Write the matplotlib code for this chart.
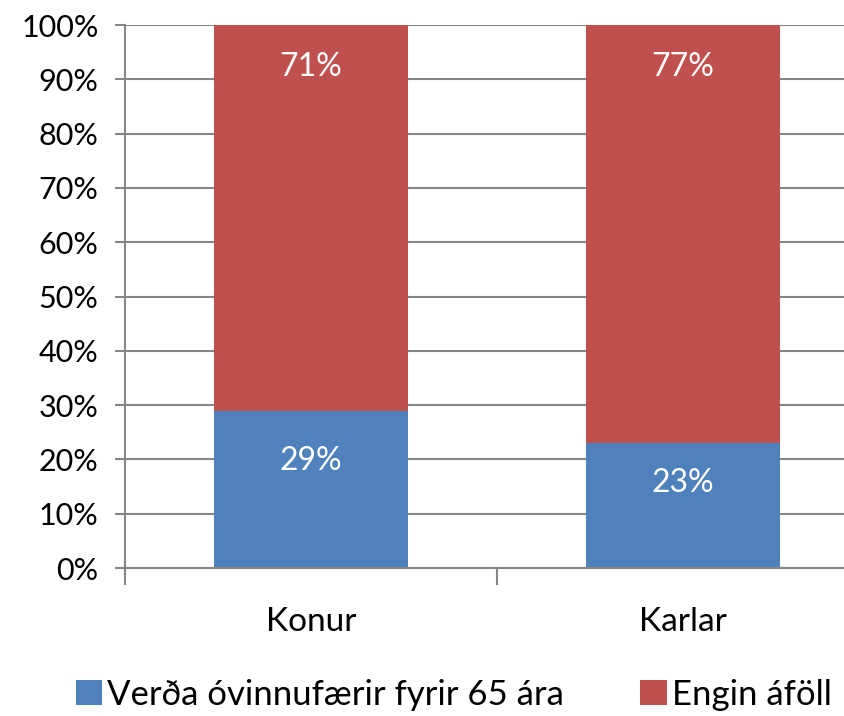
import matplotlib.pyplot as plt
import numpy as np

flokkar = ['Konur', 'Karlar']
ovinnufaer = np.array([29, 23])
engin_afoll = np.array([71, 77])
merkingar = ['Verða óvinnufærir fyrir 65 ára', 'Engin áföll']
y_merki = ['0%', '10%', '20%', '30%', '40%', '50%', '60%', '70%', '80%', '90%', '100%']

blar = '#4F81BD'
raudur = '#C0504D'
grar = '#868686'

plt.rcParams['font.family'] = ['Lato', 'DejaVu Sans']

fig = plt.figure(figsize=(8.45, 7.16), dpi=100)
ax = fig.add_axes([125 / 845, 148 / 716, 744 / 845, 543 / 716])

x = np.arange(len(flokkar))
ax.bar(x, ovinnufaer, width=0.52, color=blar, label=merkingar[0], zorder=2)
ax.bar(x, engin_afoll, width=0.52, bottom=ovinnufaer, color=raudur,
       label=merkingar[1], zorder=2)

# gildi inni i sulunum (stadsetning eins og i Excel myndinni)
for xi, v in zip(x, ovinnufaer):
    ax.text(xi, v * 0.68, f'{v}%', ha='center', va='center', color='white', fontsize=23)
for xi, v in zip(x, engin_afoll):
    ax.text(xi, 92.3, f'{v}%', ha='center', va='center', color='white', fontsize=23)

ax.set_xlim(-0.5, 1.5)
ax.set_ylim(0, 100)
ax.set_yticks(np.arange(0, 101, 10))
ax.set_yticklabels(y_merki, fontsize=22)
ax.set_xticks(x)
ax.set_xticklabels(flokkar, fontsize=24)
ax.tick_params(axis='x', length=0, pad=28)
ax.tick_params(axis='y', length=7, color=grar, width=1.5, pad=12)

# minni merki a milli flokka
ax.set_xticks([-0.5, 0.5, 1.5], minor=True)
ax.tick_params(axis='x', which='minor', length=12, color=grar, width=1.5,
               direction='out')

ax.yaxis.grid(True, color=grar, linewidth=1.5, zorder=0)
for s in ['top', 'right']:
    ax.spines[s].set_visible(False)
ax.spines['left'].set_color(grar)
ax.spines['left'].set_linewidth(1.5)
ax.spines['bottom'].set_color(grar)
ax.spines['bottom'].set_linewidth(1.5)

fig.legend(loc='center', bbox_to_anchor=(0.537, 0.03), ncol=2, frameon=False,
           fontsize=25, handlelength=0.75, handleheight=0.75, handletextpad=0.15,
           columnspacing=2.2)

fig.savefig('out.png', dpi=100)
